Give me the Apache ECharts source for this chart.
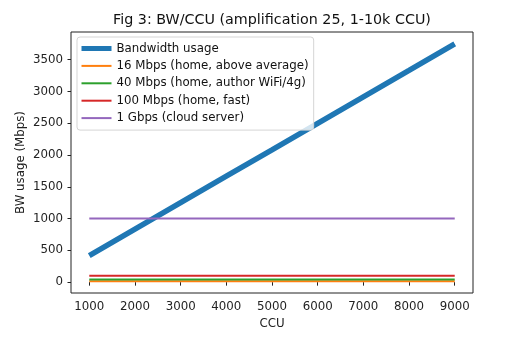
<!DOCTYPE html>
<html>
<head>
<meta charset="utf-8">
<script src="https://cdn.jsdelivr.net/npm/echarts@6/dist/echarts.min.js"></script>
<style>
  html, body { margin: 0; padding: 0; background: #fff; }
  #chart { width: 513px; height: 339px; }
</style>
</head>
<body>
<div id="chart"></div>
<script>
// Concurrent users on the x axis and the bandwidth they need
const ccu = [1000, 2000, 3000, 4000, 5000, 6000, 7000, 8000, 9000];
const bandwidth = [417, 833, 1250, 1667, 2083, 2500, 2917, 3333, 3750];

// Reference connection speeds, drawn as flat lines across the CCU range
const linkNames = [
  '16 Mbps (home, above average)',
  '40 Mbps (home, author WiFi/4g)',
  '100 Mbps (home, fast)',
  '1 Gbps (cloud server)'
];
const linkValues = [16, 40, 100, 1000];

// Tick labels
const xTicks = [1000, 2000, 3000, 4000, 5000, 6000, 7000, 8000, 9000];
const yTicks = [0, 500, 1000, 1500, 2000, 2500, 3000, 3500];

// Axis limits with a 5% margin around the data
const xLimits = [600, 9400];
const yLimits = [-170.7, 3936.7];

const colors = ['#1f77b4', '#ff7f0e', '#2ca02c', '#d62728', '#9467bd'];
const FONT = 'DejaVu Sans';
const FS = 11.8;

const series = [{
  name: 'Bandwidth usage',
  type: 'line',
  data: ccu.map((c, i) => [c, bandwidth[i]]),
  symbol: 'none',
  lineStyle: { width: 5.5, color: colors[0], cap: 'butt' },
  itemStyle: { color: colors[0] },
  z: 2
}];
linkNames.forEach((name, i) => {
  series.push({
    name: name,
    type: 'line',
    data: [[ccu[0], linkValues[i]], [ccu[ccu.length - 1], linkValues[i]]],
    symbol: 'none',
    lineStyle: { width: 2, color: colors[i + 1] },
    itemStyle: { color: colors[i + 1] },
    z: 2
  });
});

const legendData = [{ name: 'Bandwidth usage', lineStyle: { width: 5 } }]
  .concat(linkNames.map(n => ({ name: n, lineStyle: { width: 2 } })));

const plain = v => String(v);

const axisCommon = {
  type: 'value',
  axisLine: { show: false },
  axisTick: { show: true, inside: false, length: 3.5, lineStyle: { color: '#222', width: 1 } },
  axisLabel: { color: '#222', fontFamily: FONT, fontSize: FS, formatter: plain },
  splitLine: { show: false },
  nameMoveOverlap: false,
  nameTextStyle: { color: '#222', fontFamily: FONT, fontSize: FS }
};

const chart = echarts.init(document.getElementById('chart'), null, { renderer: 'canvas' });
chart.setOption({
  animation: false,
  backgroundColor: '#fff',
  color: colors,
  grid: {
    left: 71, right: 40, top: 32, bottom: 46,
    show: true, borderColor: '#222', borderWidth: 1, backgroundColor: 'transparent'
  },
  graphic: [{
    type: 'text',
    x: 272, y: 20,
    style: {
      text: 'Fig 3: BW/CCU (amplification 25, 1-10k CCU)',
      fill: '#111', font: '14.3px "DejaVu Sans"',
      align: 'center', verticalAlign: 'middle'
    }
  }],
  legend: {
    orient: 'vertical',
    left: 77, top: 37,
    padding: [5.5, 5, 6, 2],
    itemWidth: 30, itemHeight: 12, itemGap: 5.4,
    backgroundColor: 'rgba(255,255,255,0.8)',
    borderColor: '#d5d5d5', borderWidth: 1, borderRadius: 3,
    itemStyle: { opacity: 0 },
    textStyle: { color: '#111', fontFamily: FONT, fontSize: FS },
    data: legendData
  },
  xAxis: Object.assign({}, axisCommon, {
    min: xLimits[0], max: xLimits[1],
    name: 'CCU', nameLocation: 'middle', nameGap: 25,
    axisTick: Object.assign({}, axisCommon.axisTick, { customValues: xTicks }),
    axisLabel: Object.assign({}, axisCommon.axisLabel, { customValues: xTicks, margin: 8 })
  }),
  yAxis: Object.assign({}, axisCommon, {
    min: yLimits[0], max: yLimits[1],
    name: 'BW usage (Mbps)', nameLocation: 'middle', nameGap: 44, nameRotate: 90,
    axisTick: Object.assign({}, axisCommon.axisTick, { customValues: yTicks }),
    axisLabel: Object.assign({}, axisCommon.axisLabel, { customValues: yTicks, margin: 8 })
  }),
  series: series
});
</script>
</body>
</html>
